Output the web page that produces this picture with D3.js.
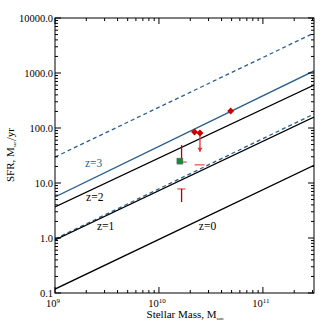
<!DOCTYPE html>
<html><head><meta charset="utf-8">
<script src="https://cdn.jsdelivr.net/npm/d3@7"></script>
<style>body{margin:0;background:#fff}svg{display:block}text{font-family:"Liberation Serif","Times New Roman",serif}</style>
</head><body>
<script>
// Lines: [mass at left, SFR at left, mass at right, SFR at right]
const lineNames = ["dashTop","z3","z2","dashMid","z1","z0"];
const lineM0 = [1e9,1e9,1e9,1e9,1e9,1e9];
const lineS0 = [29.7,5.6,3.66,0.96,0.92,0.118];
const lineM1 = [3.1e11,3.1e11,3.1e11,3.1e11,3.1e11,3.1e11];
const lineS1 = [5330,1090,605,180,158,21];
const lineColor = ["#2a5f8f","#2a5f8f","#000","#2a5f8f","#000","#000"];
const lineDash = ["4,3",null,null,"4,3",null,null];
const labelText = ["z=3","z=2","z=1","z=0"];
const labelM = [1.94e9,1.99e9,2.53e9,2.42e10];
const labelS = [19.5,4.7,1.4,1.37];
const labelColor = ["#2a5f8f","#000","#000","#000"];
// detections (diamonds)
const detM = [4.9e10,2.2e10,2.48e10];
const detS = [204,85,81];
// upper-limit arrow
const ulM = [2.48e10];
const ulTop = [81];
const ulBot = [37];
// green square
const sqM = [1.59e10];
const sqS = [25];
// red error-bar points
const ebM = [1.65e10,2.48e10,1.65e10];
const ebS = [24,21.4,7.8];
const ebLow = [24,21.4,4.5];
const ebHigh = [49,21.4,7.8];
const ebXlo = [1.5e10,2.2e10,1.5e10];
const ebXhi = [1.85e10,2.75e10,1.8e10];
const yTicks = [0.1,1,10,100,1000,10000];
const yTickLabels = ["0.1","1.0","10.0","100.0","1000.0","10000.0"];
const xTicks = [1e9,1e10,1e11];
const xTickExp = ["9","10","11"];

const W=330,H=330, L=55,R=314,T=18,B=293;
const svg=d3.select("body").append("svg").attr("width",W).attr("height",H);
const x=d3.scaleLog().domain([1e9,3.1e11]).range([L,R]);
const y=d3.scaleLog().domain([0.1,10000]).range([B,T]);

const g=svg.append("g");
svg.append("clipPath").attr("id","c").append("rect").attr("x",L).attr("y",T).attr("width",R-L).attr("height",B-T);
const pg=g.append("g").attr("clip-path","url(#c)");

lineNames.forEach((n,i)=>{
  pg.append("line").attr("x1",x(lineM0[i])).attr("y1",y(lineS0[i])).attr("x2",x(lineM1[i])).attr("y2",y(lineS1[i]))
   .attr("stroke",lineColor[i]).attr("stroke-width",1.3).attr("stroke-dasharray",lineDash[i]);
});
labelText.forEach((t,i)=>{
  g.append("text").attr("x",x(labelM[i])).attr("y",y(labelS[i])).attr("fill",labelColor[i]).attr("font-size",11.5).text(t);
});

// error bars
ebM.forEach((m,i)=>{
  g.append("line").attr("x1",x(ebXlo[i])).attr("x2",x(ebXhi[i])).attr("y1",y(ebS[i])).attr("y2",y(ebS[i])).attr("stroke","#e87070").attr("stroke-width",1.5);
  if(ebLow[i]!==ebHigh[i]) g.append("line").attr("x1",x(m)).attr("x2",x(m)).attr("y1",y(ebLow[i])).attr("y2",y(ebHigh[i])).attr("stroke","#b00000").attr("stroke-width",1.3);
});
// green square
sqM.forEach((m,i)=>{
  g.append("rect").attr("x",x(m)-3).attr("y",y(sqS[i])-3).attr("width",6).attr("height",6).attr("fill","#1a8a3a").attr("stroke","#666").attr("stroke-width",0.5);
});
// upper limit arrow
ulM.forEach((m,i)=>{
  g.append("line").attr("x1",x(m)).attr("x2",x(m)).attr("y1",y(ulTop[i])).attr("y2",y(ulBot[i])).attr("stroke","#d33").attr("stroke-width",1.3);
  const yb=y(ulBot[i]);
  g.append("path").attr("d",`M${x(m)-2.5},${yb-4}L${x(m)+2.5},${yb-4}L${x(m)},${yb}Z`).attr("fill","#d33");
});
// diamonds
detM.forEach((m,i)=>{
  const cx=x(m),cy=y(detS[i]);
  g.append("path").attr("d",`M${cx},${cy-3.5}L${cx+3.5},${cy}L${cx},${cy+3.5}L${cx-3.5},${cy}Z`).attr("fill","#cc0000");
});

// frame
g.append("rect").attr("x",L).attr("y",T).attr("width",R-L).attr("height",B-T).attr("fill","none").attr("stroke","#000").attr("stroke-width",1);
// ticks
const minorX=[];for(let e=9;e<=11;e++)for(let k=2;k<=9;k++){const v=k*Math.pow(10,e);if(v<=3.1e11)minorX.push(v);}
const minorY=[];for(let e=-1;e<=3;e++)for(let k=2;k<=9;k++)minorY.push(k*Math.pow(10,e));
const tk=g.append("g").attr("stroke","#000").attr("stroke-width",1);
xTicks.forEach(v=>{tk.append("line").attr("x1",x(v)).attr("x2",x(v)).attr("y1",B).attr("y2",B-6);tk.append("line").attr("x1",x(v)).attr("x2",x(v)).attr("y1",T).attr("y2",T+6);});
minorX.forEach(v=>{tk.append("line").attr("x1",x(v)).attr("x2",x(v)).attr("y1",B).attr("y2",B-3);tk.append("line").attr("x1",x(v)).attr("x2",x(v)).attr("y1",T).attr("y2",T+3);});
yTicks.forEach(v=>{tk.append("line").attr("y1",y(v)).attr("y2",y(v)).attr("x1",L).attr("x2",L+6);tk.append("line").attr("y1",y(v)).attr("y2",y(v)).attr("x1",R).attr("x2",R-6);});
minorY.forEach(v=>{tk.append("line").attr("y1",y(v)).attr("y2",y(v)).attr("x1",L).attr("x2",L+3);tk.append("line").attr("y1",y(v)).attr("y2",y(v)).attr("x1",R).attr("x2",R-3);});

yTicks.forEach((v,i)=>{
  g.append("text").attr("x",L-2).attr("y",y(v)+3.5).attr("text-anchor","end").attr("font-size",10.5).text(yTickLabels[i]);
});
xTicks.forEach((v,i)=>{
  const t=g.append("text").attr("x",x(v)-2).attr("y",B+14).attr("text-anchor","middle").attr("font-size",10.5);
  t.append("tspan").text("10");
  t.append("tspan").attr("dy",-4).attr("font-size",7).text(xTickExp[i]);
});
const xt=g.append("text").attr("x",185).attr("y",B+25).attr("text-anchor","middle").attr("font-size",11);
xt.append("tspan").text("Stellar Mass, M");
xt.append("tspan").attr("dy",2).attr("font-size",5).text("sun");
const yt=g.append("text").attr("transform",`translate(14,155) rotate(-90)`).attr("text-anchor","middle").attr("font-size",11);
yt.append("tspan").text("SFR, M");
yt.append("tspan").attr("dy",2).attr("font-size",5).text("sun");
yt.append("tspan").attr("dy",-2).text("/yr");
</script>
</body></html>
